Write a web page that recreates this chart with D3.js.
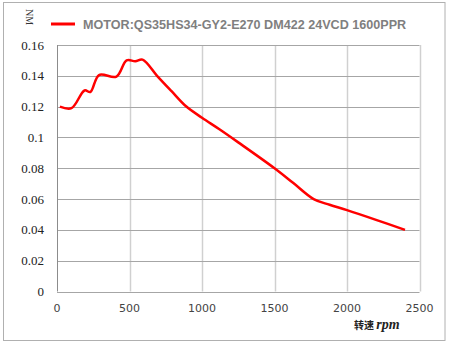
<!DOCTYPE html>
<html>
<head>
<meta charset="utf-8">
<script src="https://cdn.jsdelivr.net/npm/d3@7"></script>
<style>
  body { margin: 0; background: #fff; }
  svg { display: block; }
</style>
</head>
<body>
<div id="chart"></div>
<script>
// Torque curve
const speeds  = [20, 100, 190, 230, 290, 410, 480, 540, 590, 690, 790, 890, 1000, 1120, 1250, 1500, 1630, 1770, 1880, 2000, 2200, 2400];
const torques = [0.120, 0.119, 0.1305, 0.1295, 0.1405, 0.1395, 0.150, 0.1495, 0.1505, 0.140, 0.130, 0.1202, 0.1128, 0.1053, 0.0968, 0.080, 0.0704, 0.060, 0.0563, 0.0528, 0.0465, 0.040];
const xTicks = [0, 500, 1000, 1500, 2000, 2500];
const yTicks = [0, 0.02, 0.04, 0.06, 0.08, 0.1, 0.12, 0.14, 0.16];
const seriesName = "MOTOR:QS35HS34-GY2-E270 DM422 24VCD 1600PPR";

const width = 450;
const height = 343;
const marginTop = 45;
const marginRight = 30.5;
const marginBottom = 51.5;
const marginLeft = 57;

const data = speeds.map((s, i) => ({ rpm: s, nm: torques[i] }));

const x = d3.scaleLinear([0, 2500], [marginLeft, width - marginRight]);
const y = d3.scaleLinear([0, 0.16], [height - marginBottom, marginTop]);

const svg = d3.select("#chart").append("svg")
    .attr("width", width)
    .attr("height", height)
    .attr("viewBox", [0, 0, width, height]);

// outer frame
svg.append("rect")
    .attr("x", 3.5).attr("y", 2.5)
    .attr("width", 441.5).attr("height", 338)
    .attr("fill", "none")
    .attr("stroke", "#b0b0b0");

// vertical grid (lighter)
svg.append("g")
    .selectAll("line")
    .data(xTicks.slice(1))
    .join("line")
    .attr("x1", d => Math.round(x(d)) + 0.5)
    .attr("x2", d => Math.round(x(d)) + 0.5)
    .attr("y1", y(0.16))
    .attr("y2", y(0))
    .attr("stroke", "#d0d0d0")
    .attr("stroke-width", 1.5);

// horizontal grid
svg.append("g")
    .selectAll("line")
    .data(yTicks)
    .join("line")
    .attr("x1", marginLeft)
    .attr("x2", width - marginRight)
    .attr("y1", d => Math.round(y(d)) + 0.5)
    .attr("y2", d => Math.round(y(d)) + 0.5)
    .attr("stroke", "#a6a6a6");

// left axis line
svg.append("line")
    .attr("x1", marginLeft + 0.5).attr("x2", marginLeft + 0.5)
    .attr("y1", y(0.16)).attr("y2", y(0))
    .attr("stroke", "#8c8c8c");

// y tick labels
svg.append("g")
    .selectAll("text")
    .data(yTicks)
    .join("text")
    .attr("x", 44)
    .attr("y", d => y(d))
    .attr("dy", "0.35em")
    .attr("text-anchor", "end")
    .attr("font-family", "'Liberation Serif', serif")
    .attr("font-size", 13)
    .attr("fill", "#222")
    .text(d => d3.format("")(d));

// x tick labels
svg.append("g")
    .selectAll("text")
    .data(xTicks)
    .join("text")
    .attr("x", d => x(d))
    .attr("y", 312)
    .attr("text-anchor", "middle")
    .attr("font-family", "'DejaVu Sans', sans-serif")
    .attr("font-size", 11)
    .attr("fill", "#444")
    .text(d => d);

// axis titles
svg.append("text")
    .attr("transform", "translate(26,17) rotate(90)")
    .attr("text-anchor", "middle")
    .attr("font-family", "'Liberation Serif', serif")
    .attr("font-size", 10)
    .attr("fill", "#333")
    .text("NM");

const xTitle = svg.append("text")
    .attr("x", 354)
    .attr("y", 329)
    .attr("fill", "#222");
xTitle.append("tspan")
    .attr("font-family", "'Noto Sans CJK SC', sans-serif")
    .attr("font-size", 10)
    .attr("font-weight", "bold")
    .text("转速 ");
xTitle.append("tspan")
    .attr("font-family", "'Liberation Serif', serif")
    .attr("font-size", 14)
    .attr("font-style", "italic")
    .attr("font-weight", "bold")
    .text("rpm");

// legend
svg.append("line")
    .attr("x1", 51).attr("x2", 75)
    .attr("y1", 24).attr("y2", 24)
    .attr("stroke", "#ff0000")
    .attr("stroke-width", 3);

svg.append("text")
    .attr("x", 83)
    .attr("y", 29)
    .attr("font-family", "'Liberation Sans', Arial, sans-serif")
    .attr("font-size", 12.6)
    .attr("font-weight", "bold")
    .attr("fill", "#7f7f7f")
    .text(seriesName);

// series
const line = d3.line()
    .x(d => x(d.rpm))
    .y(d => y(d.nm))
    .curve(d3.curveCatmullRom.alpha(0.5));

svg.append("path")
    .datum(data)
    .attr("fill", "none")
    .attr("stroke", "#ff0000")
    .attr("stroke-width", 2.5)
    .attr("stroke-linejoin", "round")
    .attr("d", line);
</script>
</body>
</html>
